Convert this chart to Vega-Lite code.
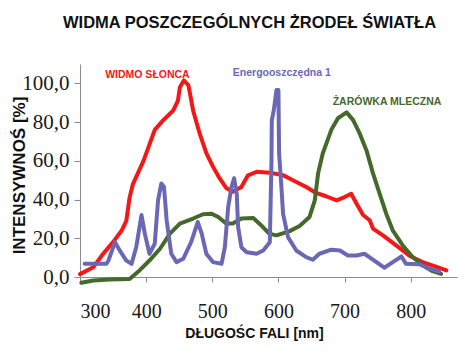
{
  "$schema": "https://vega.github.io/schema/vega-lite/v6.json",
  "autosize": {"type": "none"},
  "padding": {"left": 80, "top": 64, "right": 17, "bottom": 77},
  "width": 377,
  "height": 213,
  "background": "white",
  "title": {
    "text": "WIDMA POSZCZEGÓLNYCH ŻRODEŁ ŚWIATŁA",
    "font": "Liberation Sans",
    "fontSize": 16.5,
    "fontWeight": "bold",
    "color": "#111111",
    "anchor": "start",
    "frame": "group",
    "dx": -17,
    "offset": 33
  },
  "config": {"view": {"stroke": null}},
  "datasets": {
    "spectra": [
      {"series": "WIDMO SŁONCA", "x": 300, "y": 1.5},
      {"series": "WIDMO SŁONCA", "x": 320, "y": 5},
      {"series": "WIDMO SŁONCA", "x": 335, "y": 12},
      {"series": "WIDMO SŁONCA", "x": 350, "y": 18},
      {"series": "WIDMO SŁONCA", "x": 363, "y": 24},
      {"series": "WIDMO SŁONCA", "x": 370, "y": 29},
      {"series": "WIDMO SŁONCA", "x": 375, "y": 41},
      {"series": "WIDMO SŁONCA", "x": 380, "y": 48},
      {"series": "WIDMO SŁONCA", "x": 396, "y": 60},
      {"series": "WIDMO SŁONCA", "x": 413, "y": 76},
      {"series": "WIDMO SŁONCA", "x": 426, "y": 81},
      {"series": "WIDMO SŁONCA", "x": 441, "y": 86},
      {"series": "WIDMO SŁONCA", "x": 448, "y": 91},
      {"series": "WIDMO SŁONCA", "x": 451, "y": 98},
      {"series": "WIDMO SŁONCA", "x": 457, "y": 101.5},
      {"series": "WIDMO SŁONCA", "x": 464, "y": 99},
      {"series": "WIDMO SŁONCA", "x": 471, "y": 86},
      {"series": "WIDMO SŁONCA", "x": 481, "y": 74},
      {"series": "WIDMO SŁONCA", "x": 491, "y": 64},
      {"series": "WIDMO SŁONCA", "x": 501, "y": 57},
      {"series": "WIDMO SŁONCA", "x": 511, "y": 51},
      {"series": "WIDMO SŁONCA", "x": 521, "y": 46},
      {"series": "WIDMO SŁONCA", "x": 531, "y": 44},
      {"series": "WIDMO SŁONCA", "x": 544, "y": 46.5},
      {"series": "WIDMO SŁONCA", "x": 554, "y": 52.5},
      {"series": "WIDMO SŁONCA", "x": 567, "y": 54.3},
      {"series": "WIDMO SŁONCA", "x": 587, "y": 53.8},
      {"series": "WIDMO SŁONCA", "x": 607, "y": 52.6},
      {"series": "WIDMO SŁONCA", "x": 622, "y": 50},
      {"series": "WIDMO SŁONCA", "x": 642, "y": 46.5},
      {"series": "WIDMO SŁONCA", "x": 657, "y": 43.4},
      {"series": "WIDMO SŁONCA", "x": 672, "y": 41.7},
      {"series": "WIDMO SŁONCA", "x": 688, "y": 39.6},
      {"series": "WIDMO SŁONCA", "x": 700, "y": 41.3},
      {"series": "WIDMO SŁONCA", "x": 710, "y": 43},
      {"series": "WIDMO SŁONCA", "x": 718, "y": 38},
      {"series": "WIDMO SŁONCA", "x": 728, "y": 32},
      {"series": "WIDMO SŁONCA", "x": 738, "y": 29.3},
      {"series": "WIDMO SŁONCA", "x": 743, "y": 25},
      {"series": "WIDMO SŁONCA", "x": 758, "y": 21.5},
      {"series": "WIDMO SŁONCA", "x": 778, "y": 16.3},
      {"series": "WIDMO SŁONCA", "x": 798, "y": 11},
      {"series": "WIDMO SŁONCA", "x": 818, "y": 7.7},
      {"series": "WIDMO SŁONCA", "x": 838, "y": 5.4},
      {"series": "WIDMO SŁONCA", "x": 854, "y": 3.4},

      {"series": "ŻARÓWKA MLECZNA", "x": 302, "y": -3},
      {"series": "ŻARÓWKA MLECZNA", "x": 320, "y": -1.8},
      {"series": "ŻARÓWKA MLECZNA", "x": 345, "y": -1.3},
      {"series": "ŻARÓWKA MLECZNA", "x": 375, "y": -1},
      {"series": "ŻARÓWKA MLECZNA", "x": 390, "y": 3.4},
      {"series": "ŻARÓWKA MLECZNA", "x": 405, "y": 8.5},
      {"series": "ŻARÓWKA MLECZNA", "x": 421, "y": 14.6},
      {"series": "ŻARÓWKA MLECZNA", "x": 436, "y": 22.4},
      {"series": "ŻARÓWKA MLECZNA", "x": 451, "y": 27.6},
      {"series": "ŻARÓWKA MLECZNA", "x": 471, "y": 30.2},
      {"series": "ŻARÓWKA MLECZNA", "x": 486, "y": 32.4},
      {"series": "ŻARÓWKA MLECZNA", "x": 499, "y": 32.7},
      {"series": "ŻARÓWKA MLECZNA", "x": 509, "y": 31},
      {"series": "ŻARÓWKA MLECZNA", "x": 521, "y": 27.6},
      {"series": "ŻARÓWKA MLECZNA", "x": 531, "y": 27.6},
      {"series": "ŻARÓWKA MLECZNA", "x": 544, "y": 30.2},
      {"series": "ŻARÓWKA MLECZNA", "x": 562, "y": 30.5},
      {"series": "ŻARÓWKA MLECZNA", "x": 573, "y": 27},
      {"series": "ŻARÓWKA MLECZNA", "x": 586, "y": 22.4},
      {"series": "ŻARÓWKA MLECZNA", "x": 597, "y": 21.5},
      {"series": "ŻARÓWKA MLECZNA", "x": 617, "y": 23.7},
      {"series": "ŻARÓWKA MLECZNA", "x": 632, "y": 26.3},
      {"series": "ŻARÓWKA MLECZNA", "x": 647, "y": 31},
      {"series": "ŻARÓWKA MLECZNA", "x": 655, "y": 39.6},
      {"series": "ŻARÓWKA MLECZNA", "x": 660, "y": 53.5},
      {"series": "ŻARÓWKA MLECZNA", "x": 667, "y": 63.8},
      {"series": "ŻARÓWKA MLECZNA", "x": 680, "y": 76},
      {"series": "ŻARÓWKA MLECZNA", "x": 690, "y": 82},
      {"series": "ŻARÓWKA MLECZNA", "x": 703, "y": 85},
      {"series": "ŻARÓWKA MLECZNA", "x": 713, "y": 81},
      {"series": "ŻARÓWKA MLECZNA", "x": 723, "y": 74},
      {"series": "ŻARÓWKA MLECZNA", "x": 733, "y": 65.5},
      {"series": "ŻARÓWKA MLECZNA", "x": 743, "y": 53.5},
      {"series": "ŻARÓWKA MLECZNA", "x": 753, "y": 43},
      {"series": "ŻARÓWKA MLECZNA", "x": 763, "y": 32.7},
      {"series": "ŻARÓWKA MLECZNA", "x": 773, "y": 24},
      {"series": "ŻARÓWKA MLECZNA", "x": 788, "y": 16.3},
      {"series": "ŻARÓWKA MLECZNA", "x": 803, "y": 10.3},
      {"series": "ŻARÓWKA MLECZNA", "x": 818, "y": 6},
      {"series": "ŻARÓWKA MLECZNA", "x": 833, "y": 3},
      {"series": "ŻARÓWKA MLECZNA", "x": 846, "y": 1.6},

      {"series": "Energooszczędna 1", "x": 307, "y": 6.8},
      {"series": "Energooszczędna 1", "x": 340, "y": 6.8},
      {"series": "Energooszczędna 1", "x": 343, "y": 8.5},
      {"series": "Energooszczędna 1", "x": 353, "y": 18},
      {"series": "Energooszczędna 1", "x": 360, "y": 13.7},
      {"series": "Energooszczędna 1", "x": 370, "y": 8.5},
      {"series": "Energooszczędna 1", "x": 378, "y": 6.8},
      {"series": "Energooszczędna 1", "x": 385, "y": 15.4},
      {"series": "Energooszczędna 1", "x": 393, "y": 32},
      {"series": "Energooszczędna 1", "x": 398, "y": 22.4},
      {"series": "Energooszczędna 1", "x": 405, "y": 12},
      {"series": "Energooszczędna 1", "x": 413, "y": 17.2},
      {"series": "Energooszczędna 1", "x": 418, "y": 39.6},
      {"series": "Energooszczędna 1", "x": 423, "y": 48.3},
      {"series": "Energooszczędna 1", "x": 427, "y": 46.5},
      {"series": "Energooszczędna 1", "x": 431, "y": 29.3},
      {"series": "Energooszczędna 1", "x": 438, "y": 12},
      {"series": "Energooszczędna 1", "x": 446, "y": 7.7},
      {"series": "Energooszczędna 1", "x": 456, "y": 9.4},
      {"series": "Energooszczędna 1", "x": 468, "y": 18},
      {"series": "Energooszczędna 1", "x": 478, "y": 28.4},
      {"series": "Energooszczędna 1", "x": 484, "y": 22.4},
      {"series": "Energooszczędna 1", "x": 491, "y": 12},
      {"series": "Energooszczędna 1", "x": 501, "y": 7.7},
      {"series": "Energooszczędna 1", "x": 514, "y": 6.8},
      {"series": "Energooszczędna 1", "x": 519, "y": 15.4},
      {"series": "Energooszczędna 1", "x": 524, "y": 36},
      {"series": "Energooszczędna 1", "x": 529, "y": 46.5},
      {"series": "Energooszczędna 1", "x": 533, "y": 51},
      {"series": "Energooszczędna 1", "x": 537, "y": 43},
      {"series": "Energooszczędna 1", "x": 539, "y": 26},
      {"series": "Energooszczędna 1", "x": 544, "y": 15.4},
      {"series": "Energooszczędna 1", "x": 552, "y": 12.8},
      {"series": "Energooszczędna 1", "x": 567, "y": 12},
      {"series": "Energooszczędna 1", "x": 577, "y": 13.7},
      {"series": "Energooszczędna 1", "x": 587, "y": 18},
      {"series": "Energooszczędna 1", "x": 589.5, "y": 60},
      {"series": "Energooszczędna 1", "x": 590, "y": 81},
      {"series": "Energooszczędna 1", "x": 593, "y": 86},
      {"series": "Energooszczędna 1", "x": 597, "y": 96.6},
      {"series": "Energooszczędna 1", "x": 600, "y": 96.6},
      {"series": "Energooszczędna 1", "x": 601, "y": 64},
      {"series": "Energooszczędna 1", "x": 604.5, "y": 46.5},
      {"series": "Energooszczędna 1", "x": 607, "y": 32.7},
      {"series": "Energooszczędna 1", "x": 614.5, "y": 20.6},
      {"series": "Energooszczędna 1", "x": 627, "y": 13.7},
      {"series": "Energooszczędna 1", "x": 642, "y": 10.3},
      {"series": "Energooszczędna 1", "x": 652, "y": 8.9},
      {"series": "Energooszczędna 1", "x": 662, "y": 12},
      {"series": "Energooszczędna 1", "x": 680, "y": 14.1},
      {"series": "Energooszczędna 1", "x": 693, "y": 13.7},
      {"series": "Energooszczędna 1", "x": 705, "y": 11.1},
      {"series": "Energooszczędna 1", "x": 718, "y": 11.1},
      {"series": "Energooszczędna 1", "x": 730, "y": 12},
      {"series": "Energooszczędna 1", "x": 745, "y": 8.5},
      {"series": "Energooszczędna 1", "x": 760, "y": 4.8},
      {"series": "Energooszczędna 1", "x": 773, "y": 7.7},
      {"series": "Energooszczędna 1", "x": 786, "y": 10.6},
      {"series": "Energooszczędna 1", "x": 793, "y": 6.8},
      {"series": "Energooszczędna 1", "x": 813, "y": 6.6},
      {"series": "Energooszczędna 1", "x": 828, "y": 4.4},
      {"series": "Energooszczędna 1", "x": 843, "y": 2.8}
    ],
    "labels": [
      {"series": "WIDMO SŁONCA", "x": 338, "y": 104.4},
      {"series": "Energooszczędna 1", "x": 531, "y": 105.4},
      {"series": "ŻARÓWKA MLECZNA", "x": 682, "y": 90.4}
    ]
  },
  "encoding": {
    "x": {
      "field": "x",
      "type": "quantitative",
      "scale": {"domain": [300, 870], "nice": false, "zero": false},
      "axis": {
        "values": [300, 400, 500, 600, 700, 800],
        "grid": false,
        "title": "DŁUGOŚC FALI [nm]",
        "titleFont": "Liberation Sans",
        "titleFontSize": 14,
        "titleFontWeight": "bold",
        "titleColor": "#111111",
        "titleX": 174,
        "titleY": 56,
        "titleBaseline": "middle",
        "labelFont": "Liberation Sans Narrow",
        "labelFontSize": 20,
        "labelColor": "#1a1a1a",
        "labelPadding": 19,
        "domainColor": "#8c8c8c",
        "tickColor": "#8c8c8c",
        "tickSize": 5
      }
    },
    "y": {
      "field": "y",
      "type": "quantitative",
      "scale": {"domain": [0, 110], "nice": false},
      "axis": {
        "values": [0, 20, 40, 60, 80, 100],
        "grid": false,
        "labelExpr": "replace(format(datum.value, '.1f'), '.', ',')",
        "title": "INTENSYWNOŚ [%]",
        "titleFont": "Liberation Sans",
        "titleFontSize": 17,
        "titleFontWeight": "bold",
        "titleColor": "#111111",
        "titleX": -61,
        "titleY": 111,
        "titleAngle": 270,
        "titleBaseline": "middle",
        "titleAlign": "center",
        "labelFont": "Liberation Sans Narrow",
        "labelFontSize": 21,
        "labelColor": "#1a1a1a",
        "labelPadding": 5,
        "domainColor": "#8c8c8c",
        "tickColor": "#8c8c8c",
        "tickSize": 6
      }
    },
    "color": {
      "field": "series",
      "type": "nominal",
      "scale": {
        "domain": ["WIDMO SŁONCA", "ŻARÓWKA MLECZNA", "Energooszczędna 1"],
        "range": ["#f21818", "#44692a", "#6a68b4"]
      },
      "legend": null
    }
  },
  "layer": [
    {
      "data": {"name": "spectra"},
      "mark": {"type": "line", "strokeWidth": 4, "strokeCap": "round", "strokeJoin": "round", "clip": false},
      "encoding": {"order": {"field": "x", "type": "quantitative"}}
    },
    {
      "data": {"name": "labels"},
      "mark": {"type": "text", "align": "left", "baseline": "middle", "font": "Liberation Sans", "fontSize": 10.5, "fontWeight": "bold"},
      "encoding": {"text": {"field": "series", "type": "nominal"}}
    }
  ]
}
